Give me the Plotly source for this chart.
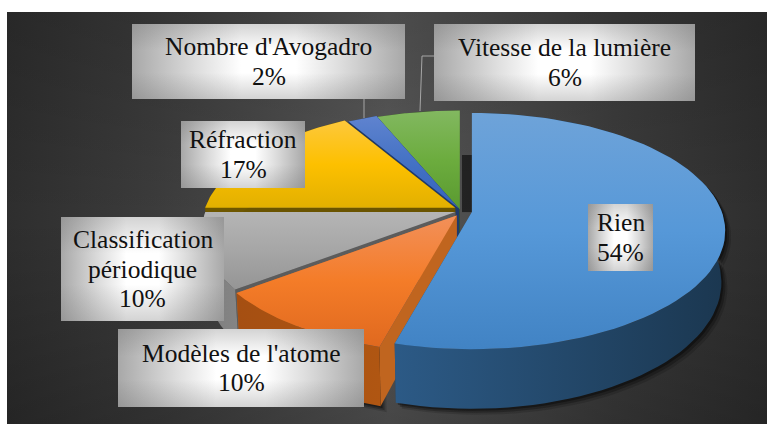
import numpy as np
import plotly.graph_objects as go

categories = ["Rien", "Modèles de l'atome", "Classification<br>périodique",
              "Réfraction", "Nombre d'Avogadro", "Vitesse de la lumière"]
values = [54.2, 10.4, 10.4, 16.6, 2.2, 6.2]
explode = [12, 6, 5, 5.5, 2, 1]

# per slice colours: top gradient (bottom to top), arc wall gradient, cut face
top_colors = [["#4183c4", "#5698d8", "#6ea3d9"],
              ["#e0691f", "#f47c28", "#f2905a"],
              ["#959595", "#a6a6a6", "#b5b5b5"],
              ["#e2b000", "#fdc000", "#fdc83c"],
              ["#3462bd", "#4472c4", "#5f83cf"],
              ["#5a9a30", "#6cac3e", "#82b860"]]
wall_colors = [["#2c5a86", "#1b3750"],
               ["#a54f12", "#b05612"],
               ["#7d7d7d", "#858585"],
               ["#6e5700", "#6e5700"],
               ["#1f3864", "#1f3864"],
               ["#35541f", "#35541f"]]
cut_colors = ["#24496d", "#c0651f", "#5c5c5c", "#6a5400", "#1f3a6b", "#3c5f24"]

# label boxes: left, right, top, bottom
boxes = [(588, 653, 204, 271), (118, 364, 329, 407), (61, 224, 217, 321),
         (181, 305, 121, 188), (132, 405, 24, 99), (434, 695, 24, 101)]

CX, CY = 460, 210.5
A, B, K = 250, 115, 0.161
DEPTH = 50
LINE_GAP = 29.5
FONT = "'Liberation Serif', 'Times New Roman', serif"

fig = go.Figure()


def grad_scale(colors, stops=None):
    stops = stops or [i / (len(colors) - 1) for i in range(len(colors))]
    return [[s, c] for s, c in zip(stops, colors)]


def poly(xs, ys, color=None, grad=None, kind="vertical", opacity=1, stops=None):
    style = dict(fillcolor=color) if color else dict(
        fillgradient=dict(type=kind, colorscale=grad_scale(grad, stops)))
    fig.add_trace(go.Scatter(x=list(xs), y=list(ys), mode="lines", fill="toself", line=dict(width=0),
                             opacity=opacity, hoverinfo="skip", showlegend=False, **style))


def project(theta, x0, y0):
    # theta clockwise from the top, perspective ellipse
    u, v = np.sin(theta), np.cos(theta)
    w = 1 + K * v
    return x0 + A * u / w, y0 - B * v / w, w


def lower(xs, ys, ws, x0):
    return x0 + (xs - x0) * 0.985, ys + DEPTH / ws


# background
poly([7, 767, 767, 7], [12, 12, 424, 424], kind="horizontal",
     grad=["#2e2e2e", "#3c3c3c", "#585858", "#3c3c3c", "#2e2e2e"], stops=[0, 0.2, 0.5, 0.8, 1])
poly([7, 767, 767, 7], [12, 12, 424, 424], kind="vertical",
     grad=["rgba(0,0,0,0.2)", "rgba(0,0,0,0)", "rgba(0,0,0,0.14)"])

edges = np.cumsum([0] + values) / sum(values) * 2 * np.pi
slices = []
for i in range(len(values)):
    mid = (edges[i] + edges[i + 1]) / 2
    x0 = CX + explode[i] * np.sin(mid)
    y0 = CY - explode[i] * np.cos(mid)
    t = np.linspace(edges[i], edges[i + 1], 80)
    slices.append((i, x0, y0, *project(t, x0, y0)))

# soft shadow under the front slices
for i, x0, y0, xs, ys, ws in slices[:2]:
    bx, by = lower(xs, ys, ws, x0)
    for off, op in [(6, 0.15), (4, 0.25), (2, 0.35)]:
        poly(np.r_[xs + off, (bx + off)[::-1]], np.r_[ys + off, (by + off)[::-1]], color="#000000", opacity=op)

# back to front: green, blue, yellow, grey, orange, blue
for i, x0, y0, xs, ys, ws in slices[::-1]:
    bx, by = lower(xs, ys, ws, x0)
    ax, ay = x0, y0 + DEPTH
    for j in (0, -1):
        poly([x0, xs[j], bx[j], ax], [y0, ys[j], by[j], ay], color=cut_colors[i])
    poly(np.r_[xs, bx[::-1]], np.r_[ys, by[::-1]], grad=wall_colors[i], kind="horizontal")
    if i == 0:
        # dark shadow behind the vertical edge of the big slice
        poly([462, x0, x0, 462], [155, 155, y0, y0], color="#000000", opacity=0.55)
    poly(np.r_[x0, xs], np.r_[y0, ys], grad=top_colors[i], kind="vertical")

# leader lines
for lx, ly in [([364, 364], [99, 118]), ([434, 422, 420], [56, 56, 111])]:
    fig.add_trace(go.Scatter(x=lx, y=ly, mode="lines", line=dict(color="#a6a6a6", width=1),
                             hoverinfo="skip", showlegend=False))

# labels
for cat, val, (l, r, t, b) in zip(categories, values, boxes):
    poly([l, r, r, l], [t, t, b, b], kind="horizontal",
         grad=["#a8a8a8", "#dedede", "#ffffff", "#ffffff", "#dedede", "#a8a8a8"],
         stops=[0, 0.24, 0.4, 0.6, 0.76, 1])
    poly([l, r, r, l], [t, t, b, b], kind="vertical",
         grad=["rgba(110,110,110,0.3)", "rgba(110,110,110,0)", "rgba(110,110,110,0)", "rgba(110,110,110,0.3)"],
         stops=[0, 0.35, 0.65, 1])
    lines = f"{cat}<br>{round(val)}%".split("<br>")
    for n, line in enumerate(lines):
        y = (t + b) / 2 + (n - (len(lines) - 1) / 2) * LINE_GAP
        fig.add_annotation(x=(l + r) / 2, y=y, text=line, showarrow=False,
                           font=dict(family=FONT, size=25.5, color="#111111"))

fig.update_layout(
    width=767, height=424,
    margin=dict(l=0, r=0, t=0, b=0),
    paper_bgcolor="white",
    plot_bgcolor="white",
    xaxis=dict(range=[0, 767], visible=False, fixedrange=True),
    yaxis=dict(range=[424, 0], visible=False, fixedrange=True),
    showlegend=False,
)

# the page body has a default margin that would shift the figure
fig.write_html("out.html", config={"displayModeBar": False},
               post_script="document.body.style.margin='0';document.body.style.overflow='hidden';")
